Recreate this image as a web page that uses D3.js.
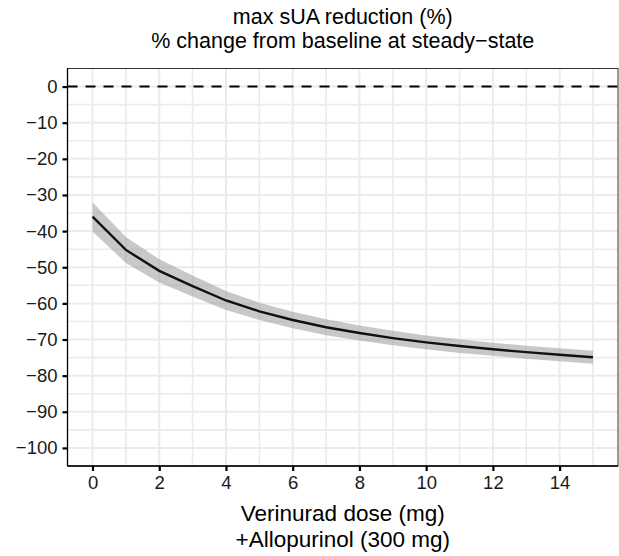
<!DOCTYPE html>
<html>
<head>
<meta charset="utf-8">
<script src="https://cdn.jsdelivr.net/npm/d3@7"></script>
<style>
  body { margin: 0; background: #fff; }
  text { font-family: "Liberation Sans", Arial, Helvetica, sans-serif; }
</style>
</head>
<body>
<svg width="619" height="556"></svg>
<script>
// dose (mg) and predicted sUA change (%), with 95% band
var dose = [0, 1, 2, 3, 4, 5, 6, 7, 8, 9, 10, 11, 12, 13, 14, 15];
var median = [-36, -45.2, -51, -55.2, -59.2, -62.2, -64.6, -66.6, -68.2, -69.6, -70.8, -71.8, -72.7, -73.5, -74.2, -74.9];
var upper = [-32, -41.6, -47.8, -52.3, -56.6, -59.8, -62.3, -64.4, -66.1, -67.6, -68.9, -69.9, -70.9, -71.7, -72.4, -73.1];
var lower = [-40.1, -48.8, -54.2, -58.1, -61.8, -64.6, -66.9, -68.8, -70.3, -71.6, -72.7, -73.7, -74.5, -75.3, -76, -76.7];
var xTicks = [0, 2, 4, 6, 8, 10, 12, 14];
var yTicks = [0, -10, -20, -30, -40, -50, -60, -70, -80, -90, -100];

var svg = d3.select("svg");
var pLeft = 67.5, pRight = 618, pTop = 68.5, pBottom = 466;

var x = d3.scaleLinear().domain([-0.75, 15.75]).range([pLeft, pRight]);
var y = d3.scaleLinear().domain([-105, 5]).range([pBottom, pTop]);

var g = svg.append("g");

// grid, minor then major
var minorX = [1, 3, 5, 7, 9, 11, 13, 15];
var minorY = [-5, -15, -25, -35, -45, -55, -65, -75, -85, -95];
g.selectAll(".mx").data(minorX).enter().append("line")
    .attr("x1", function(d) { return x(d); }).attr("x2", function(d) { return x(d); })
    .attr("y1", pTop).attr("y2", pBottom)
    .style("stroke", "#ebebeb").style("stroke-width", 1.6);
g.selectAll(".my").data(minorY).enter().append("line")
    .attr("y1", function(d) { return y(d); }).attr("y2", function(d) { return y(d); })
    .attr("x1", pLeft).attr("x2", pRight)
    .style("stroke", "#ebebeb").style("stroke-width", 1.6);
g.selectAll(".gx").data(xTicks).enter().append("line")
    .attr("x1", function(d) { return x(d); }).attr("x2", function(d) { return x(d); })
    .attr("y1", pTop).attr("y2", pBottom)
    .style("stroke", "#ebebeb").style("stroke-width", 2);
g.selectAll(".gy").data(yTicks).enter().append("line")
    .attr("y1", function(d) { return y(d); }).attr("y2", function(d) { return y(d); })
    .attr("x1", pLeft).attr("x2", pRight)
    .style("stroke", "#ebebeb").style("stroke-width", 2);

var pts = dose.map(function(d, i) { return {x: d, m: median[i], lo: lower[i], hi: upper[i]}; });

g.append("path")
    .datum(pts)
    .attr("d", d3.area()
        .x(function(d) { return x(d.x); })
        .y0(function(d) { return y(d.lo); })
        .y1(function(d) { return y(d.hi); }))
    .style("fill", "#9a9a9a")
    .style("fill-opacity", 0.55);

g.append("path")
    .datum(pts)
    .attr("d", d3.line()
        .x(function(d) { return x(d.x); })
        .y(function(d) { return y(d.m); }))
    .style("fill", "none")
    .style("stroke", "#111")
    .style("stroke-width", 2.4);

// baseline
g.append("line")
    .attr("x1", pLeft).attr("x2", pRight)
    .attr("y1", y(0)).attr("y2", y(0))
    .style("stroke", "#000").style("stroke-width", 2)
    .style("stroke-dasharray", "10,8");

// panel border
g.append("rect")
    .attr("x", pLeft).attr("y", pTop)
    .attr("width", pRight - pLeft).attr("height", pBottom - pTop)
    .style("fill", "none").style("stroke", "#333").style("stroke-width", 1);

// axes
var xAxis = svg.append("g")
    .attr("transform", "translate(0," + pBottom + ")")
    .call(d3.axisBottom(x).tickValues(xTicks).tickSize(5).tickPadding(5));
var yAxis = svg.append("g")
    .attr("transform", "translate(" + pLeft + ",0)")
    .call(d3.axisLeft(y).tickValues(yTicks).tickSize(5).tickPadding(5)
        .tickFormat(function(d) { return d < 0 ? "\u2212" + Math.abs(d) : d; }));

[xAxis, yAxis].forEach(function(a) {
    a.select(".domain").style("stroke", "#000").style("stroke-width", 1.3);
    a.selectAll(".tick line").style("stroke", "#000").style("stroke-width", 2.2);
    a.selectAll(".tick text")
        .style("font-size", "18.5px")
        .style("fill", "#1a1a1a")
        .style("font-family", "'Liberation Sans', Arial, sans-serif");
});
xAxis.select(".domain").attr("d", "M" + pLeft + ",0H" + pRight);
yAxis.select(".domain").attr("d", "M0," + pTop + "V" + pBottom);

var cx = (pLeft + pRight) / 2;
svg.append("text").attr("x", cx).attr("y", 24).attr("text-anchor", "middle")
    .style("font-size", "21.5px").text("max sUA reduction (%)");
svg.append("text").attr("x", cx).attr("y", 48).attr("text-anchor", "middle")
    .style("font-size", "21.5px").text("% change from baseline at steady\u2212state");
svg.append("text").attr("x", cx).attr("y", 521).attr("text-anchor", "middle")
    .style("font-size", "22.5px").text("Verinurad dose (mg)");
svg.append("text").attr("x", cx).attr("y", 547).attr("text-anchor", "middle")
    .style("font-size", "22.5px").text("+Allopurinol (300 mg)");
</script>
</body>
</html>
